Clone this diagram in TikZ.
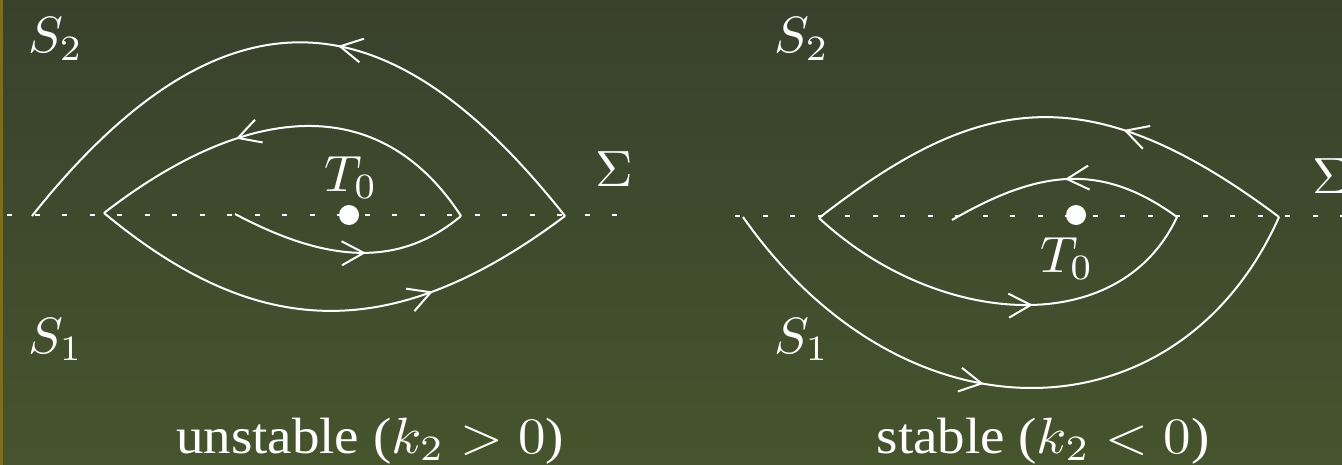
\documentclass[tikz,border=0pt]{standalone}
\usepackage[no-math]{fontspec}
\setmainfont{Liberation Serif}
\usetikzlibrary{arrows.meta,decorations.markings}
\definecolor{bgtop}{RGB}{57,65,45}
\definecolor{bgbot}{RGB}{70,84,45}
\definecolor{stripcol}{RGB}{125,110,28}
\tikzset{
  traj/.style={draw=white, line width=1pt},
  arr/.style={postaction={decorate}, decoration={markings,
      mark=at position #1 with {\arrow{Straight Barb[length=11pt,width=12pt,line width=1pt]}}}},
  sigmaline/.style={draw=white, line width=1.3pt, dash pattern=on 2.65pt off 11.1pt},
  lbl/.style={text=white, inner sep=0pt, font=\normalsize, xscale=2.6, yscale=2.55},
  caption/.style={text=white, inner sep=0pt, font=\normalsize, xscale=2.75, yscale=2.55},
  fixpt/.style={circle, fill=white, inner sep=0pt, minimum size=10pt}
}
\begin{document}
\begin{tikzpicture}[x=0.5pt,y=-0.5pt]
  % background
  \fill[top color=bgtop, bottom color=bgbot] (0,0) rectangle (1342,465);
  \useasboundingbox (0,0) rectangle (1342,465);
  \clip (0,0) rectangle (1342,465);
  \fill[stripcol] (0,0) rectangle (3,465);

  % switching lines Sigma
  \coordinate (sl0) at (7,215);
  \coordinate (sl1) at (620,215);
  \coordinate (sr0) at (735,216);
  \coordinate (sr1) at (1350,216);
  \draw[sigmaline] (sl0) -- (sl1);
  \draw[sigmaline] (sr0) -- (sr1);

  % left panel: unstable
  \coordinate (L0) at (235,214);
  \coordinate (L1) at (461,216);
  \coordinate (L2) at (104,213);
  \coordinate (L3) at (565,216);
  \coordinate (L4) at (32,216);
  \draw[traj,arr=0.57] (L0) .. controls (314.5,256) and (392,274) .. (L1);
  \draw[traj,arr=0.63] (L1) .. controls (379,90) and (246,103) .. (L2);
  \draw[traj,arr=0.70] (L2) .. controls (258,341) and (393,345) .. (L3);
  \draw[traj,arr=0.44] (L3) .. controls (419.3,32.7) and (250.9,-59.3) .. (L4);
  \node[fixpt] (TL) at (349,215) {};

  % right panel: stable
  \coordinate (R0) at (952,220);
  \coordinate (R1) at (1177,217);
  \coordinate (R2) at (819,218);
  \coordinate (R3) at (1279,217);
  \coordinate (R4) at (743,217);
  \draw[traj,arr=0.45] (R4) .. controls (906.5,450.2) and (1179.8,439.7) .. (R3);
  \draw[traj,arr=0.35] (R3) .. controls (1087,73) and (977,94.8) .. (R2);
  \draw[traj,arr=0.57] (R2) .. controls (935.7,326.7) and (1118.9,341.5) .. (R1);
  \draw[traj,arr=0.50] (R1) .. controls (1100.4,161.2) and (1037.9,170.4) .. (R0);
  \node[fixpt] (TR) at (1076,215) {};

  % labels
  \node[lbl, anchor=base west] (s2l) at (27,53) {$S_2$};
  \node[lbl, anchor=base west] (s1l) at (27,353) {$S_1$};
  \node[lbl, anchor=base west] (t0l) at (323,191) {$T_0$};
  \node[lbl, anchor=base west] (sgl) at (594,186) {$\Sigma$};
  \node[caption, anchor=base] (capl) at (370,453) {unstable ($k_2 > 0$)};

  \node[lbl, anchor=base west] (s2r) at (773,53) {$S_2$};
  \node[lbl, anchor=base west] (s1r) at (773,353) {$S_1$};
  \node[lbl, anchor=base west] (t0r) at (1039,272) {$T_0$};
  \node[lbl, anchor=base west] (sgr) at (1311,193) {$\Sigma$};
  \node[caption, anchor=base] (capr) at (1043,453) {stable ($k_2 < 0$)};
\end{tikzpicture}
\end{document}
